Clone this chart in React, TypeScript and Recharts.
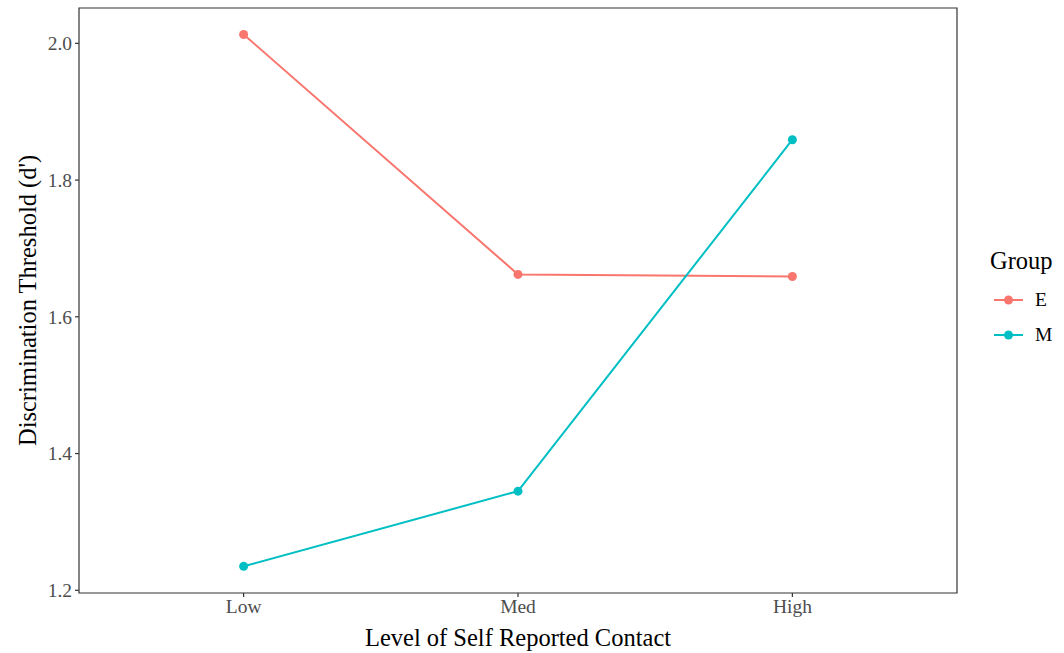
import { Line, LineChart, XAxis, YAxis, ReferenceArea } from "recharts";

const categories = ["Low", "Med", "High"];
const groups = ["E", "M"];
const eValues = [2.013, 1.662, 1.659];
const mValues = [1.235, 1.345, 1.859];
const yTicks = [1.2, 1.4, 1.6, 1.8, 2.0];

const colors: Record<string, string> = { E: "#F8766D", M: "#00BFC4" };

const data = categories.map((c, i) => ({ x: i + 1, label: c, E: eValues[i], M: mValues[i] }));

const FONT = "'Liberation Serif', 'DejaVu Serif', serif";
const X_DOMAIN: [number, number] = [0.4, 3.6];
const Y_DOMAIN: [number, number] = [1.196, 2.0517];

export default function App() {
  return (
    <div style={{ position: "absolute", left: 0, top: 0, width: 1064, height: 653, background: "#fff", fontFamily: FONT }}>
      <LineChart width={1064} height={653} data={data} margin={{ top: 8, right: 107, bottom: 0, left: 0 }}>
        <ReferenceArea
          x1={X_DOMAIN[0]}
          x2={X_DOMAIN[1]}
          y1={Y_DOMAIN[0]}
          y2={Y_DOMAIN[1]}
          fill="none"
          stroke="#333333"
          strokeWidth={1.2}
          ifOverflow="visible"
        />
        <XAxis
          type="number"
          dataKey="x"
          domain={X_DOMAIN}
          ticks={[1, 2, 3]}
          tickFormatter={(v: number) => categories[v - 1] ?? ""}
          height={60}
          axisLine={false}
          tickLine={{ stroke: "#333333", strokeWidth: 1.2 }}
          tickSize={4}
          tickMargin={2}
          tick={{ fontSize: 19.5, fill: "#4D4D4D", fontFamily: FONT }}
          label={{ value: "Level of Self Reported Contact", position: "insideBottom", offset: 7, fontSize: 24.5, fill: "#000", fontFamily: FONT }}
        />
        <YAxis
          type="number"
          domain={Y_DOMAIN}
          ticks={yTicks}
          tickFormatter={(v: number) => v.toFixed(1)}
          width={79}
          axisLine={false}
          tickLine={{ stroke: "#333333", strokeWidth: 1.2 }}
          tickSize={4}
          tickMargin={3}
          allowDataOverflow
          tick={{ fontSize: 19.5, fill: "#4D4D4D", fontFamily: FONT }}
          label={{ value: "Discrimination Threshold (d')", angle: -90, position: "insideLeft", offset: 27, fontSize: 24.5, fill: "#000", fontFamily: FONT, style: { textAnchor: "middle" } }}
        />
        {groups.map((g) => (
          <Line
            key={g}
            type="linear"
            dataKey={g}
            stroke={colors[g]}
            strokeWidth={2}
            dot={{ r: 4.5, fill: colors[g], stroke: colors[g], strokeWidth: 0 }}
            activeDot={false}
            isAnimationActive={false}
          />
        ))}
      </LineChart>
      <div style={{ position: "absolute", left: 990, top: 246, fontSize: 24.5, lineHeight: "30px", color: "#000" }}>Group</div>
      {groups.map((g, i) => (
        <div key={g} style={{ position: "absolute", left: 994, top: 290 + i * 35, height: 20, display: "flex", alignItems: "center" }}>
          <svg width={29} height={20}>
            <line x1={0} x2={29} y1={10} y2={10} stroke={colors[g]} strokeWidth={2} />
            <circle cx={14.5} cy={10} r={4.5} fill={colors[g]} />
          </svg>
          <span style={{ marginLeft: 12, fontSize: 19.5, color: "#000" }}>{g}</span>
        </div>
      ))}
    </div>
  );
}
